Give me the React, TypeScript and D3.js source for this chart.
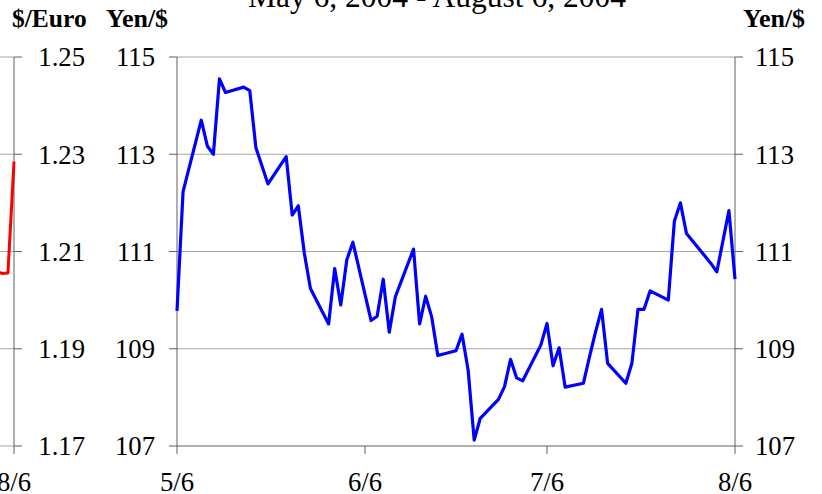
import React from 'react';
import * as d3 from 'd3';

// Yen per dollar, daily close (2004)
const yenDates = [
  '5/6', '5/7', '5/10', '5/11', '5/12', '5/13', '5/14', '5/17', '5/18', '5/19', '5/21',
  '5/24', '5/25', '5/26', '5/27', '5/28', '5/31', '6/1', '6/2', '6/3', '6/4',
  '6/7', '6/8', '6/9', '6/10', '6/11', '6/14', '6/15', '6/16', '6/17', '6/18',
  '6/21', '6/22', '6/23', '6/24', '6/25', '6/28', '6/29', '6/30', '7/1', '7/2',
  '7/5', '7/6', '7/7', '7/8', '7/9', '7/12', '7/13', '7/14', '7/15', '7/16',
  '7/19', '7/20', '7/21', '7/22', '7/23', '7/26', '7/27', '7/28', '7/29',
  '8/2', '8/3', '8/5', '8/6',
];
const yenValues = [
  109.78, 112.23, 113.7, 113.17, 113.0, 114.55, 114.27, 114.38, 114.31, 113.14, 112.39,
  112.95, 111.75, 111.94, 110.96, 110.24, 109.51, 110.65, 109.9, 110.83, 111.19,
  109.58, 109.67, 110.43, 109.34, 110.07, 111.05, 109.51, 110.08, 109.65, 108.86,
  108.96, 109.3, 108.56, 107.12, 107.57, 107.96, 108.22, 108.78, 108.4, 108.34,
  109.08, 109.52, 108.65, 109.02, 108.21, 108.29, 108.83, 109.34, 109.81, 108.7,
  108.29, 108.7, 109.81, 109.81, 110.19, 110.0, 111.62, 112.0, 111.37,
  110.76, 110.58, 111.84, 110.43,
];

// tail of the neighbouring $/Euro panel
const euroDates = ['8/3', '8/4', '8/5', '8/6'];
const euroValues = [1.206, 1.2055, 1.2056, 1.2285];

const dateTicks = ['5/6', '6/6', '7/6', '8/6'];
const yenTicks = [107, 109, 111, 113, 115];
const euroTicks = [1.17, 1.19, 1.21, 1.23, 1.25];

const title = 'May 6, 2004 - August 6, 2004';

const toDate = (s: string) => {
  const [m, d] = s.split('/').map(Number);
  return new Date(2004, m - 1, d);
};

const FONT = '"Liberation Serif", "Times New Roman", serif';
const GRID = '#a6a6a6';
const AXIS = '#606060';

const App: React.FC = () => {
  const width = 822;
  const height = 494;
  const left = 177;
  const right = 735;
  const top = 57;
  const bottom = 446;
  const plotW = right - left;

  const x = d3.scaleTime().domain([toDate('5/6'), toDate('8/6')]).range([left, right]);
  const y = d3.scaleLinear().domain([107, 115]).range([bottom, top]);

  // left panel: same span, its right edge sits at x=14
  const eRight = 14;
  const xe = d3.scaleTime().domain([toDate('5/6'), toDate('8/6')]).range([eRight - plotW, eRight]);
  const ye = d3.scaleLinear().domain([1.17, 1.25]).range([bottom, top]);

  const yenLine = d3
    .line<number>()
    .x((_, i) => x(toDate(yenDates[i])))
    .y(d => y(d));
  const euroLine = d3
    .line<number>()
    .x((_, i) => xe(toDate(euroDates[i])))
    .y(d => ye(d));

  return (
    <svg
      width={width}
      height={height}
      style={{ position: 'absolute', left: 0, top: 0, fontFamily: FONT }}
    >
      <rect width={width} height={height} fill="#fff" />
      <text x={437} y={7} fontSize={31.5} textAnchor="middle">{title}</text>

      <text x={12} y={27} fontSize={25.5} fontWeight="bold">$/Euro</text>
      <text x={106} y={27} fontSize={26} fontWeight="bold">Yen/$</text>
      <text x={743} y={27} fontSize={26} fontWeight="bold">Yen/$</text>

      {/* left $/Euro panel remnant */}
      {euroTicks.map(t => (
        <g key={'e' + t}>
          <line x1={0} x2={eRight} y1={ye(t)} y2={ye(t)} stroke={GRID} />
          <line x1={eRight} x2={eRight + 8} y1={ye(t)} y2={ye(t)} stroke={AXIS} />
          <text x={85} y={ye(t)} dy="0.35em" fontSize={26.7} textAnchor="end">
            {t.toFixed(2)}
          </text>
        </g>
      ))}
      <line x1={eRight} x2={eRight} y1={top} y2={bottom + 8} stroke={AXIS} />
      <text x={eRight} y={491} fontSize={26.7} textAnchor="middle">8/6</text>
      <path
        d={euroLine(euroValues) || ''}
        fill="none"
        stroke="#ff0000"
        strokeWidth={3}
        strokeLinejoin="round"
      />

      {/* main Yen/$ chart */}
      {yenTicks.map(t => (
        <g key={'y' + t}>
          {t !== 107 && (
            <line x1={left} x2={right} y1={y(t)} y2={y(t)} stroke={GRID} />
          )}
          <line x1={left - 8} x2={left} y1={y(t)} y2={y(t)} stroke={AXIS} />
          <line x1={right} x2={right + 8} y1={y(t)} y2={y(t)} stroke={AXIS} />
          <text x={155} y={y(t)} dy="0.35em" fontSize={26.7} textAnchor="end">{t}</text>
          <text x={755} y={y(t)} dy="0.35em" fontSize={26.7}>{t}</text>
        </g>
      ))}
      <line x1={left} x2={right} y1={bottom} y2={bottom} stroke={AXIS} />
      <line x1={left} x2={left} y1={top} y2={bottom} stroke={AXIS} />
      <line x1={right} x2={right} y1={top} y2={bottom} stroke={AXIS} />
      {dateTicks.map(t => (
        <g key={'d' + t}>
          <line x1={x(toDate(t))} x2={x(toDate(t))} y1={bottom} y2={bottom + 8} stroke={AXIS} />
          <text x={x(toDate(t))} y={491} fontSize={26.7} textAnchor="middle">{t}</text>
        </g>
      ))}
      <path
        d={yenLine(yenValues) || ''}
        fill="none"
        stroke="#0000ff"
        strokeWidth={3.2}
        strokeLinejoin="round"
      />
    </svg>
  );
};

export default App;
